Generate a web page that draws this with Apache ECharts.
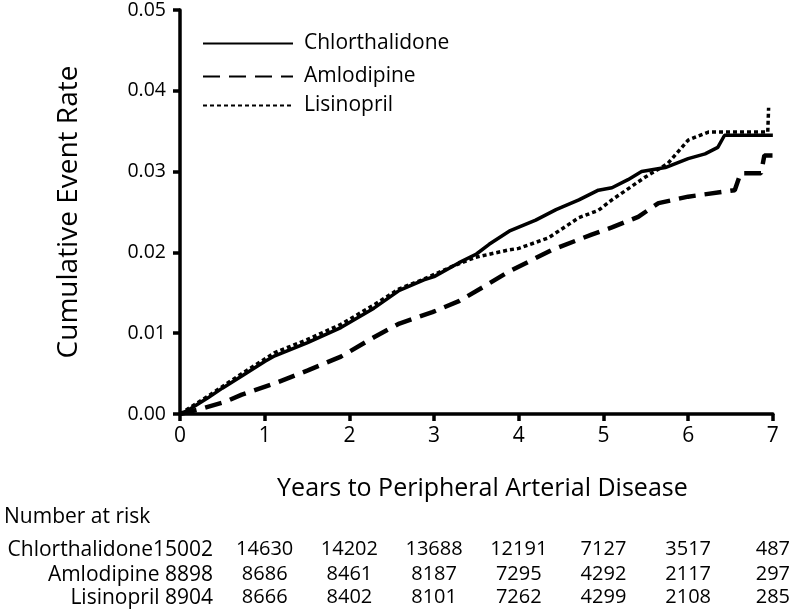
<!DOCTYPE html>
<html>
<head>
<meta charset="utf-8">
<script src="https://cdn.jsdelivr.net/npm/echarts@6/dist/echarts.min.js"></script>
<style>
html,body{margin:0;padding:0;background:#fff;}
#c{width:793px;height:612px;}
</style>
</head>
<body>
<div id="c"></div>
<script>
// ---- data ----
const seriesNames = ['Chlorthalidone', 'Amlodipine', 'Lisinopril'];

const chlorT = [0, 0.1, 0.33, 0.5, 0.73, 1.0, 1.12, 1.5, 1.9, 2.29, 2.59, 2.88, 3.0, 3.29, 3.5, 3.65, 3.9, 4.2, 4.44, 4.71, 4.94, 5.1, 5.29, 5.45, 5.73, 6.0, 6.2, 6.35, 6.43, 7.0];
const chlorV = [0, 0.0005, 0.002, 0.0032, 0.0047, 0.0065, 0.0072, 0.0088, 0.0107, 0.0131, 0.0153, 0.0166, 0.0170, 0.0187, 0.0198, 0.0210, 0.0227, 0.0240, 0.0253, 0.0265, 0.0277, 0.0280, 0.0290, 0.0300, 0.0305, 0.0316, 0.0322, 0.0330, 0.0345, 0.0345];

const amloT = [0, 0.2, 0.53, 0.73, 1.12, 1.51, 1.9, 2.29, 2.59, 2.98, 3.3, 3.56, 3.88, 4.39, 4.86, 5.1, 5.41, 5.65, 6.0, 6.55, 6.62, 6.86, 6.9, 7.0];
const amloV = [0, 0.0005, 0.0015, 0.0024, 0.0038, 0.0054, 0.0071, 0.0095, 0.0112, 0.0126, 0.0140, 0.0156, 0.0176, 0.0203, 0.0222, 0.0231, 0.0244, 0.0261, 0.0269, 0.0277, 0.0298, 0.0298, 0.0320, 0.0320];

const lisiT = [0, 0.33, 0.73, 1.12, 1.5, 1.9, 2.29, 2.59, 2.88, 3.2, 3.49, 3.88, 4.0, 4.35, 4.71, 4.94, 5.1, 5.49, 5.76, 6.0, 6.24, 6.94, 6.95];
const lisiV = [0, 0.0022, 0.005, 0.0076, 0.0092, 0.0111, 0.0135, 0.0155, 0.0167, 0.0182, 0.0194, 0.0203, 0.0205, 0.0218, 0.0243, 0.0252, 0.0265, 0.0293, 0.0310, 0.0339, 0.0349, 0.0349, 0.0379];

const riskYears = [0, 1, 2, 3, 4, 5, 6, 7];
const riskChlor = [15002, 14630, 14202, 13688, 12191, 7127, 3517, 487];
const riskAmlo  = [8898, 8686, 8461, 8187, 7295, 4292, 2117, 297];
const riskLisi  = [8904, 8666, 8402, 8101, 7262, 4299, 2108, 285];

const xTitle = 'Years to Peripheral Arterial Disease';
const yTitle = 'Cumulative Event Rate';
const riskTitle = 'Number at risk';

// ---- chart ----
const FONT = 'Open Sans';
const pair = (t, v) => t.map((x, i) => [x, v[i]]);

function riskAxis(arr, off) {
  return {
    type: 'value', min: 0, max: 7, interval: 1, position: 'bottom', offset: off,
    axisLine: {show: false}, axisTick: {show: false}, splitLine: {show: false},
    axisLabel: {
      margin: 0, fontFamily: FONT, fontSize: 20, color: '#000',
      showMinLabel: true, showMaxLabel: true,
      formatter: v => (v === 0 ? '' : String(arr[riskYears.indexOf(v)]))
    }
  };
}

const chart = echarts.init(document.getElementById('c'), null, {renderer: 'canvas'});
const legendBase = {
  left: 197, orient: 'vertical', itemWidth: 90, itemHeight: 14, itemGap: 0,
  itemStyle: {opacity: 0},
  textStyle: {fontFamily: FONT, fontSize: 21, color: '#000', padding: [0, 0, 0, 6]},
  inactiveColor: '#000'
};
chart.setOption({
  animation: false,
  backgroundColor: '#fff',
  grid: {left: 180, right: 18, top: 10, bottom: 198, containLabel: false},
  legend: [
    Object.assign({}, legendBase, {top: 28, data: [seriesNames[0]]}),
    Object.assign({}, legendBase, {top: 61, data: [seriesNames[1]]}),
    Object.assign({}, legendBase, {top: 90, data: [seriesNames[2]]})
  ],
  xAxis: [
    {
      type: 'value', min: 0, max: 7, interval: 1,
      axisLine: {show: true, onZero: false, lineStyle: {color: '#000', width: 3.5}},
      axisTick: {show: true, length: 7, lineStyle: {color: '#000', width: 3.5}},
      splitLine: {show: false},
      axisLabel: {margin: 12, fontFamily: FONT, fontSize: 21, color: '#000', showMinLabel: true, showMaxLabel: true},
      name: xTitle, nameLocation: 'middle', nameGap: 62,
      nameTextStyle: {fontFamily: FONT, fontSize: 25, color: '#000', padding: [0, 0, 0, 12]}
    },
    riskAxis(riskChlor, 125),
    riskAxis(riskAmlo, 150),
    riskAxis(riskLisi, 173)
  ],
  yAxis: {
    type: 'value', min: 0, max: 0.05, interval: 0.01,
    axisLine: {show: true, onZero: false, lineStyle: {color: '#000', width: 3.5}},
    axisTick: {show: true, length: 7, lineStyle: {color: '#000', width: 3.5}},
    splitLine: {show: false},
    axisLabel: {margin: 14, fontFamily: FONT, fontSize: 19.5, color: '#000', formatter: v => v.toFixed(2)},
    name: yTitle, nameLocation: 'middle', nameGap: 97,
    nameTextStyle: {fontFamily: FONT, fontSize: 28, color: '#000'}
  },
  series: [
    {name: seriesNames[0], type: 'line', data: pair(chlorT, chlorV), showSymbol: false, symbol: 'none',
     lineStyle: {color: '#000', width: 3.5, type: 'solid'}, itemStyle: {color: '#000'}},
    {name: seriesNames[1], type: 'line', data: pair(amloT, amloV), showSymbol: false, symbol: 'none',
     lineStyle: {color: '#000', width: 4.5, type: [17, 9]}, itemStyle: {color: '#000'}},
    {name: seriesNames[2], type: 'line', data: pair(lisiT, lisiV), showSymbol: false, symbol: 'none',
     lineStyle: {color: '#000', width: 3.5, type: [4, 3]}, itemStyle: {color: '#000'}}
  ],
  graphic: [
    {type: 'text', left: 4, top: 507, style: {text: riskTitle, font: '21px "Open Sans"', fill: '#000'}},
    {type: 'text', x: 213, y: 550, style: {text: seriesNames[0] + riskChlor[0], font: '21px "Open Sans"', fill: '#000', align: 'right', verticalAlign: 'middle'}},
    {type: 'text', x: 213, y: 575, style: {text: seriesNames[1] + ' ' + riskAmlo[0], font: '21px "Open Sans"', fill: '#000', align: 'right', verticalAlign: 'middle'}},
    {type: 'text', x: 213, y: 598, style: {text: seriesNames[2] + ' ' + riskLisi[0], font: '21px "Open Sans"', fill: '#000', align: 'right', verticalAlign: 'middle'}}
  ]
});
</script>
</body>
</html>
